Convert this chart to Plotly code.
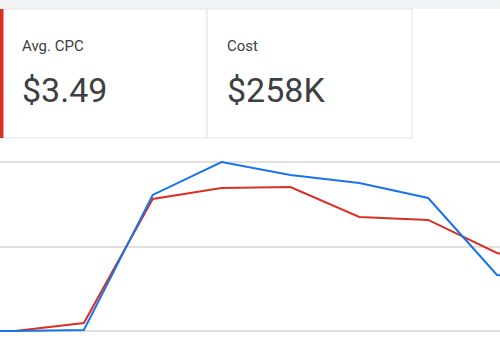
import plotly.graph_objects as go

# ---- data ----
periods = [-1, 0, 1, 2, 3, 4, 5, 6, 7, 8]
series_blue = [0.0, 0.0, 0.012, 1.61, 2.0, 1.846, 1.751, 1.574, 0.663, 0.58]
series_red = [0.0, 0.0, 0.095, 1.562, 1.692, 1.704, 1.349, 1.314, 0.923, 0.75]
card_labels = ["Avg. CPC", "Cost"]
card_values = ["$3.49", "$258K"]

W, H = 500, 350


def px(x):
    return x / W


def py(y):
    return 1 - y / H


fig = go.Figure()
fig.add_trace(go.Scatter(x=periods, y=series_red, mode="lines",
                         line=dict(color="#d93025", width=2), hoverinfo="skip"))
fig.add_trace(go.Scatter(x=periods, y=series_blue, mode="lines",
                         line=dict(color="#1a73e8", width=2), hoverinfo="skip"))

shapes = []
# top grey band
shapes.append(dict(type="rect", xref="paper", yref="paper", x0=0, x1=1,
                   y0=py(9), y1=1, fillcolor="#f1f3f4", line=dict(width=0), layer="below"))
# cards
for (x0, x1) in [(0, 207), (207, 412)]:
    shapes.append(dict(type="rect", xref="paper", yref="paper", x0=px(x0), x1=px(x1),
                       y0=py(138), y1=py(9), fillcolor="white",
                       line=dict(color="#e3e3e3", width=1), layer="below"))
# red selected bar
shapes.append(dict(type="rect", xref="paper", yref="paper", x0=0, x1=px(3.5),
                   y0=py(138), y1=py(9), fillcolor="#d93025", line=dict(width=0)))

annotations = []
for i, (lab, val) in enumerate(zip(card_labels, card_values)):
    x = [20, 225][i]
    annotations.append(dict(xref="paper", yref="paper", x=px(x), y=py(46), text=lab,
                            showarrow=False, xanchor="left", yanchor="middle",
                            font=dict(family="Roboto", size=15, color="#3c4043")))
    annotations.append(dict(xref="paper", yref="paper", x=px(x), y=py(90), text=val,
                            showarrow=False, xanchor="left", yanchor="middle",
                            font=dict(family="Roboto", size=34, color="#3c4043")))

y0 = -(350 - 331) / 84.5
y1 = y0 + 200 / 84.5
x0 = -15 / 68.86
x1 = x0 + 500 / 68.86

fig.update_layout(
    width=W, height=H,
    margin=dict(l=0, r=0, t=0, b=0),
    paper_bgcolor="white", plot_bgcolor="white",
    showlegend=False,
    shapes=shapes, annotations=annotations,
    xaxis=dict(range=[x0, x1], showgrid=False, zeroline=False, showticklabels=False,
               fixedrange=True),
    yaxis=dict(range=[y0, y1], domain=[0, 200 / 350], dtick=1, showgrid=True,
               gridcolor="#e0e0e0", gridwidth=1.5, zeroline=False, showticklabels=False,
               fixedrange=True),
)

fig.write_html("out.html", config={"displayModeBar": False})
